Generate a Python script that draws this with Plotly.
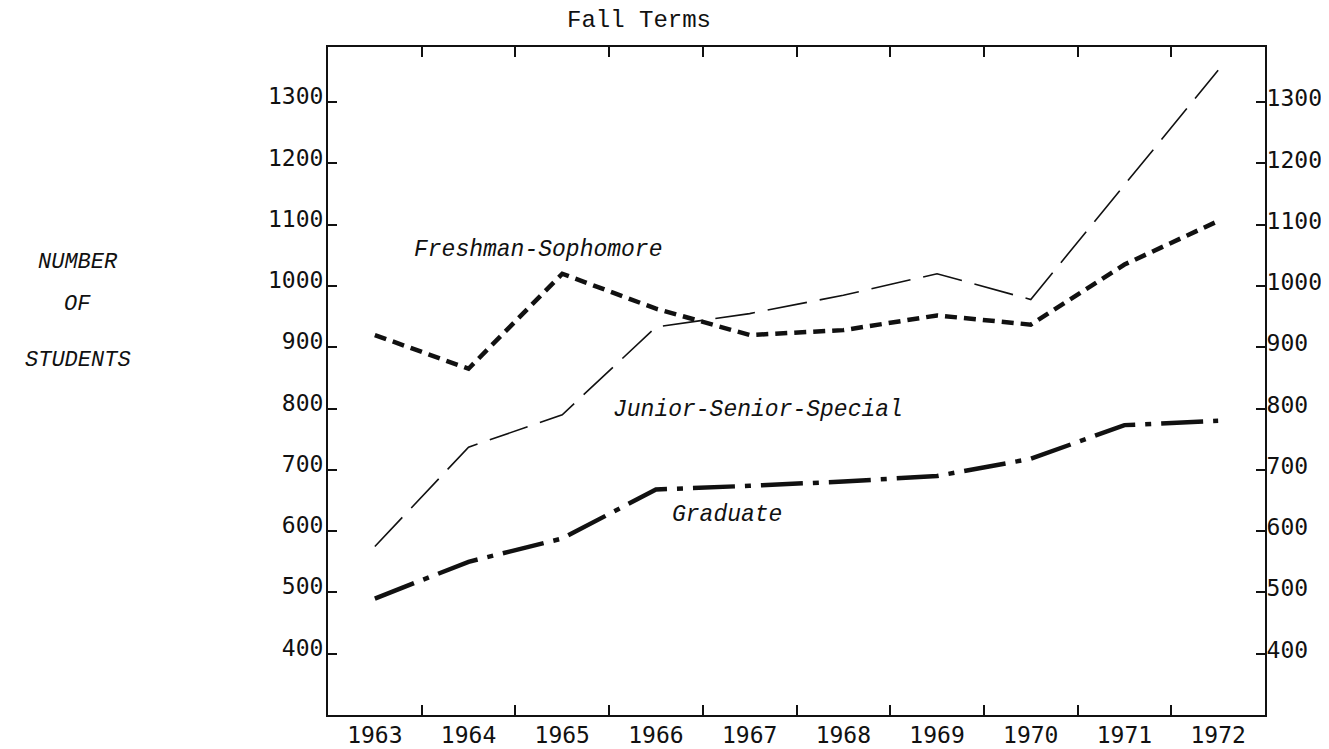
import plotly.graph_objects as go

# Fall term enrollment by level
years = [1963, 1964, 1965, 1966, 1967, 1968, 1969, 1970, 1971, 1972]
freshman_sophomore = [920, 865, 1020, 963, 920, 928, 952, 937, 1035, 1106]
junior_senior_special = [575, 737, 790, 933, 955, 985, 1020, 978, 1165, 1352]
graduate = [490, 550, 588, 668, 674, 681, 690, 718, 773, 780]
y_ticks = [400, 500, 600, 700, 800, 900, 1000, 1100, 1200, 1300]
year_labels = [str(y) for y in years]

INK = "#111111"
Y_TICK_FONT = dict(family="DejaVu Sans Mono", size=23, color=INK)
X_TICK_FONT = dict(family="DejaVu Sans Mono", size=23, color=INK)
TYPE_FONT = dict(family="Liberation Mono", size=24, color=INK)
ITALIC_FONT = dict(family="Liberation Mono", size=23, color=INK, style="italic")

x_range = [years[0] - 0.5, years[-1] + 0.5]
y_range = [300, 1390]
bounds = [y + 0.5 for y in years[:-1]]

fig = go.Figure()

fig.add_trace(go.Scatter(
    x=years, y=freshman_sophomore, mode="lines", name="Freshman-Sophomore",
    line=dict(color=INK, width=4.5, dash="12px,7px"),
))
fig.add_trace(go.Scatter(
    x=years, y=junior_senior_special, mode="lines", name="Junior-Senior-Special",
    line=dict(color=INK, width=1.6, dash="40px,13px"),
))
fig.add_trace(go.Scatter(
    x=years, y=graduate, mode="lines", name="Graduate",
    line=dict(color=INK, width=4.5, dash="42px,10px,6px,10px"),
))
# empty trace so the mirrored axes get drawn
fig.add_trace(go.Scatter(x=[], y=[], xaxis="x2", yaxis="y2", showlegend=False))

axis_common = dict(showgrid=False, zeroline=False, showline=True,
                   linecolor=INK, linewidth=2, automargin=False)

# page body adds an 8px margin, so the figure is 8px smaller than the window
fig.update_layout(
    width=1321, height=741,
    paper_bgcolor="white", plot_bgcolor="white",
    showlegend=False,
    margin=dict(l=320, r=64, t=39, b=34, autoexpand=False),
    xaxis=dict(
        **axis_common, range=x_range,
        tickmode="array", tickvals=years, ticktext=year_labels,
        ticks="", tickfont=X_TICK_FONT, ticklabelstandoff=-2,
        minor=dict(tickmode="array", tickvals=bounds, ticks="inside",
                   ticklen=10, tickwidth=2, tickcolor=INK),
    ),
    xaxis2=dict(
        **axis_common, range=x_range, overlaying="x", side="top",
        tickmode="array", tickvals=bounds, ticks="inside",
        ticklen=10, tickwidth=2, tickcolor=INK, showticklabels=False,
    ),
    yaxis=dict(
        **axis_common, range=y_range,
        tickmode="array", tickvals=y_ticks, ticks="inside",
        ticklen=9, tickwidth=2, tickcolor=INK, tickfont=Y_TICK_FONT,
        ticklabelshift=-6, ticklabelstandoff=-2,
    ),
    yaxis2=dict(
        **axis_common, range=y_range, overlaying="y", side="right",
        tickmode="array", tickvals=y_ticks, ticks="inside",
        ticklen=9, tickwidth=2, tickcolor=INK, tickfont=Y_TICK_FONT,
        ticklabelshift=-4, ticklabelstandoff=-5,
    ),
)

# title and series labels
fig.add_annotation(text="Fall Terms", xref="paper", yref="paper",
                   x=0.332, xanchor="center", y=1.0, yanchor="middle", yshift=27,
                   showarrow=False, font=TYPE_FONT)
fig.add_annotation(text="Freshman-Sophomore", x=1964.74, y=1058,
                   showarrow=False, font=ITALIC_FONT)
fig.add_annotation(text="Junior-Senior-Special", x=1967.09, y=798,
                   showarrow=False, font=ITALIC_FONT)
fig.add_annotation(text="Graduate", x=1966.76, y=627,
                   showarrow=False, font=ITALIC_FONT)

# vertical axis title, typed in three lines
for word, ypos in [("NUMBER", 0.699), ("OF", 0.615), ("STUDENTS", 0.531)]:
    fig.add_annotation(text=word, xref="paper", yref="paper",
                       x=-0.267, xanchor="center", y=ypos, showarrow=False,
                       font=dict(family="Liberation Mono", size=22,
                                 color=INK, style="italic"))

fig.write_html("out.html")
